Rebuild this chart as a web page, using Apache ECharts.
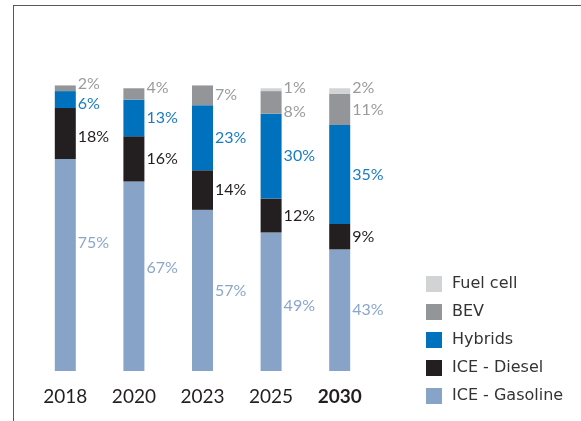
<!DOCTYPE html>
<html>
<head>
<meta charset="utf-8">
<script src="https://cdn.jsdelivr.net/npm/echarts@6/dist/echarts.min.js"></script>
<style>
  html, body { margin: 0; padding: 0; background: #fff; }
  #wrap { position: relative; width: 581px; height: 421px; overflow: hidden; }
  #frame { position: absolute; left: 13px; top: 5px; width: 600px; height: 500px;
           border-top: 1.5px solid #595959; border-left: 1.5px solid #595959; }
  #chart { position: absolute; left: 0; top: 0; width: 581px; height: 421px; }
</style>
</head>
<body>
<div id="wrap">
  <div id="frame"></div>
  <div id="chart"></div>
</div>
<script>
// market share by powertrain, %
const years = ['2018', '2020', '2023', '2025', '2030']
const gasoline = [75, 67, 57, 49, 43]
const diesel = [18, 16, 14, 12, 9]
const hybrids = [6, 13, 23, 30, 35]
const bev = [2, 4, 7, 8, 11]
const fuelCell = [0, 0, 0, 1, 2]

const font = 'Lato, "DejaVu Sans", sans-serif'

// small vertical nudges so labels sit like the original (series name -> per year px)
const nudge = {
    'ICE - Gasoline': [-22, -8, 0, 4, 0],
    'ICE - Diesel': [3, 0, 0, 0, 0],
    'Hybrids': [4, 0, 0, 0, 0],
    'BEV': [-4, -6, 0, 9, 0],
    'Fuel cell': [0, 0, 0, -2, -3]
}

function makeSeries(name, values, color, labelColor) {
    return {
        name: name,
        type: 'bar',
        stack: 'total',
        barWidth: 21,
        itemStyle: { color: color },
        data: values.map((v, i) => ({
            value: v,
            label: { offset: [0, nudge[name][i]] }
        })),
        label: {
            show: true,
            position: 'right',
            distance: 2,
            color: labelColor,
            fontFamily: font,
            fontSize: 16,
            formatter: p => p.value > 0 ? p.value + '%' : ''
        }
    }
}

const chart = echarts.init(document.getElementById('chart'))
chart.setOption({
    animation: false,
    grid: { left: 31, right: 207, top: 60, bottom: 50 },
    legend: {
        orient: 'vertical',
        left: 426,
        top: 276,
        padding: 0,
        icon: 'rect',
        itemWidth: 16,
        itemHeight: 16,
        itemGap: 12,
        selectedMode: false,
        data: ['Fuel cell', 'BEV', 'Hybrids', 'ICE - Diesel', 'ICE - Gasoline'],
        textStyle: {
            fontFamily: '"DejaVu Sans", sans-serif',
            fontSize: 16,
            color: '#333',
            lineHeight: 16,
            padding: [0, 0, 0, 5]
        }
    },
    xAxis: {
        type: 'category',
        data: years,
        axisLine: { show: false },
        axisTick: { show: false },
        axisLabel: {
            interval: 0,
            hideOverlap: false,
            margin: 16,
            fontFamily: font,
            fontSize: 19,
            color: '#231f20',
            formatter: v => v === '2030' ? '{b|' + v + '}' : v,
            rich: { b: { fontWeight: 'bold', fontFamily: font, fontSize: 19, color: '#231f20' } }
        }
    },
    yAxis: {
        type: 'value',
        min: 0,
        max: 110,
        show: false,
        splitLine: { show: false }
    },
    series: [
        makeSeries('ICE - Gasoline', gasoline, '#87a4c8', '#8aa6cb'),
        makeSeries('ICE - Diesel', diesel, '#231f20', '#231f20'),
        makeSeries('Hybrids', hybrids, '#0071bc', '#1a7cc2'),
        makeSeries('BEV', bev, '#939598', '#9a9b9d'),
        makeSeries('Fuel cell', fuelCell, '#d1d3d4', '#9a9b9d')
    ]
})
</script>
</body>
</html>
